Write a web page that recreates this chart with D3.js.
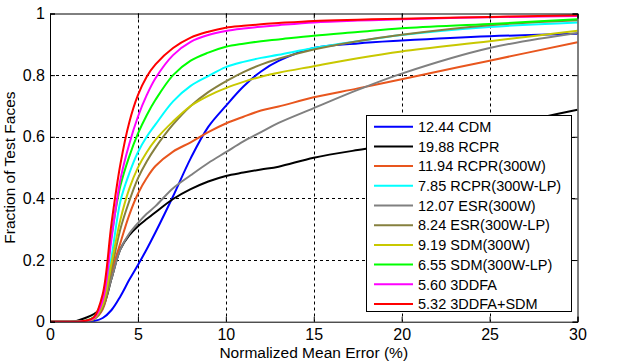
<!DOCTYPE html>
<html>
<head>
<meta charset="utf-8">
<script src="https://cdn.jsdelivr.net/npm/d3@7"></script>
<style>
  body { margin: 0; background: #fff; }
  svg text { font-family: "Liberation Sans", Arial, sans-serif; fill: #000; }
</style>
</head>
<body>
<svg id="chart" width="629" height="362"></svg>
<script>
// error thresholds (x, %) where each curve was read
const errX = [0, 1, 1.5, 2, 2.5, 3, 3.5, 4, 4.5, 5, 5.5, 6, 7, 8, 9, 10, 11, 12, 13, 15, 17.5, 20, 25, 30];

// fraction of test faces per method
const cdm        = [0, 0, 0, 0, 0.002, 0.012, 0.038, 0.082, 0.135, 0.184, 0.235, 0.29, 0.407, 0.53, 0.632, 0.70, 0.763, 0.812, 0.846, 0.888, 0.903, 0.912, 0.926, 0.934];
const rcpr       = [0, 0, 0.002, 0.012, 0.025, 0.048, 0.14, 0.235, 0.28, 0.31, 0.333, 0.355, 0.398, 0.43, 0.455, 0.473, 0.484, 0.494, 0.503, 0.532, 0.557, 0.578, 0.63, 0.688];
const rcpr300w   = [0, 0, 0, 0.002, 0.008, 0.04, 0.16, 0.255, 0.345, 0.415, 0.466, 0.505, 0.552, 0.582, 0.615, 0.643, 0.665, 0.685, 0.698, 0.728, 0.757, 0.787, 0.847, 0.907];
const rcprLP     = [0, 0, 0, 0.002, 0.01, 0.06, 0.21, 0.39, 0.48, 0.55, 0.6, 0.64, 0.715, 0.765, 0.797, 0.826, 0.843, 0.856, 0.866, 0.888, 0.91, 0.93, 0.956, 0.971];
const esr300w    = [0, 0, 0, 0.003, 0.01, 0.05, 0.14, 0.235, 0.285, 0.32, 0.35, 0.375, 0.433, 0.475, 0.515, 0.55, 0.585, 0.615, 0.645, 0.693, 0.752, 0.805, 0.888, 0.937];
const esrLP      = [0, 0, 0, 0.002, 0.008, 0.045, 0.17, 0.3, 0.39, 0.465, 0.52, 0.565, 0.64, 0.70, 0.745, 0.78, 0.81, 0.834, 0.853, 0.883, 0.91, 0.931, 0.962, 0.978];
const sdm300w    = [0, 0, 0, 0.002, 0.01, 0.055, 0.19, 0.33, 0.43, 0.5, 0.55, 0.59, 0.65, 0.7, 0.733, 0.758, 0.778, 0.795, 0.808, 0.829, 0.855, 0.877, 0.91, 0.944];
const sdmLP      = [0, 0, 0, 0.003, 0.015, 0.08, 0.28, 0.44, 0.535, 0.61, 0.67, 0.72, 0.8, 0.847, 0.873, 0.892, 0.902, 0.91, 0.916, 0.928, 0.94, 0.952, 0.966, 0.981];
const ddfa       = [0, 0, 0, 0.002, 0.012, 0.07, 0.27, 0.46, 0.575, 0.665, 0.735, 0.79, 0.865, 0.908, 0.93, 0.943, 0.951, 0.957, 0.962, 0.971, 0.977, 0.981, 0.988, 0.992];
const ddfaSdm    = [0, 0, 0, 0.003, 0.015, 0.09, 0.32, 0.51, 0.645, 0.735, 0.795, 0.835, 0.888, 0.922, 0.941, 0.954, 0.96, 0.965, 0.969, 0.976, 0.98, 0.983, 0.989, 0.994];

const labels = ["12.44 CDM", "19.88 RCPR", "11.94 RCPR(300W)", "7.85 RCPR(300W-LP)", "12.07 ESR(300W)",
                "8.24 ESR(300W-LP)", "9.19 SDM(300W)", "6.55 SDM(300W-LP)", "5.60 3DDFA", "5.32 3DDFA+SDM"];
const colors = ["#0000ff", "#000000", "#e8561e", "#00ffff", "#808080",
                "#86803f", "#c8c800", "#00ff00", "#ff00ff", "#ff0000"];
const seriesValues = [cdm, rcpr, rcpr300w, rcprLP, esr300w, esrLP, sdm300w, sdmLP, ddfa, ddfaSdm];

const xTicks = [0, 5, 10, 15, 20, 25, 30];
const yTicks = [0, 0.2, 0.4, 0.6, 0.8, 1];

// --- layout ---
const plotL = 50, plotR = 577.5, plotT = 13.5, plotB = 321.7;
const svg = d3.select("#chart");

const x = d3.scaleLinear().domain([0, 30]).range([plotL, plotR]);
const y = d3.scaleLinear().domain([0, 1]).range([plotB, plotT]);

// grid (dashed)
const grid = svg.append("g").attr("stroke", "#000").attr("stroke-dasharray", "3,3").attr("stroke-width", 1);
xTicks.slice(1, -1).forEach(v => {
  const px = Math.round(x(v)) + 0.5;
  grid.append("line").attr("x1", px).attr("x2", px).attr("y1", plotT).attr("y2", plotB);
});
yTicks.slice(1, -1).forEach(v => {
  const py = Math.round(y(v)) + 0.5;
  grid.append("line").attr("x1", plotL).attr("x2", plotR).attr("y1", py).attr("y2", py);
});

// curves
svg.append("clipPath").attr("id", "plot-clip")
  .append("rect").attr("x", plotL).attr("y", plotT - 2).attr("width", plotR - plotL).attr("height", plotB - plotT + 2);

const line = d3.line()
  .x(d => x(d[0]))
  .y(d => y(d[1]))
  .curve(d3.curveCatmullRom.alpha(0.5));

const curves = svg.append("g").attr("clip-path", "url(#plot-clip)");
seriesValues.forEach((vals, i) => {
  curves.append("path")
    .datum(errX.map((e, j) => [e, vals[j]]))
    .attr("fill", "none")
    .attr("stroke", colors[i])
    .attr("stroke-width", 2)
    .attr("d", line);
});

// axes, ticks pointing inward
const fontSize = "16px";
const gx = svg.append("g").attr("transform", `translate(0,${plotB})`)
  .call(d3.axisBottom(x).tickValues(xTicks).tickSize(-5).tickPadding(7).tickFormat(d3.format("d")));
const gy = svg.append("g").attr("transform", `translate(${plotL},0)`)
  .call(d3.axisLeft(y).tickValues(yTicks).tickSize(-5).tickPadding(5).tickFormat(d => d === 0 || d === 1 ? d : d.toFixed(1)));
svg.append("g").attr("transform", `translate(0,${plotT})`)
  .call(d3.axisTop(x).tickValues(xTicks).tickSize(-5).tickFormat(""));
svg.append("g").attr("transform", `translate(${plotR},0)`)
  .call(d3.axisRight(y).tickValues(yTicks).tickSize(-5).tickFormat(""));

svg.selectAll(".domain").attr("stroke", "#000").attr("stroke-width", 1);
svg.selectAll(".tick line").attr("stroke", "#000");
[gx, gy].forEach(g => g.selectAll("text").style("font-size", fontSize).attr("fill", "#000"));

// axis titles
svg.append("text")
  .attr("x", (plotL + plotR) / 2).attr("y", 358)
  .attr("text-anchor", "middle")
  .style("font-size", "15.5px")
  .text("Normalized Mean Error (%)");

svg.append("text")
  .attr("transform", `translate(15,${(plotT + plotB) / 2}) rotate(-90)`)
  .attr("text-anchor", "middle")
  .style("font-size", "15.5px")
  .text("Fraction of Test Faces");

// legend
const legend = svg.append("g");
legend.append("rect")
  .attr("x", 366.5).attr("y", 115.5).attr("width", 205).attr("height", 196)
  .attr("fill", "#fff").attr("stroke", "#000").attr("stroke-width", 1);

labels.forEach((name, i) => {
  const ly = 126.7 + i * 19.7;
  legend.append("line")
    .attr("x1", 374).attr("x2", 413).attr("y1", ly).attr("y2", ly)
    .attr("stroke", colors[i]).attr("stroke-width", 2);
  legend.append("text")
    .attr("x", 418).attr("y", ly).attr("dy", "0.36em")
    .style("font-size", "14.5px")
    .text(name);
});
</script>
</body>
</html>
